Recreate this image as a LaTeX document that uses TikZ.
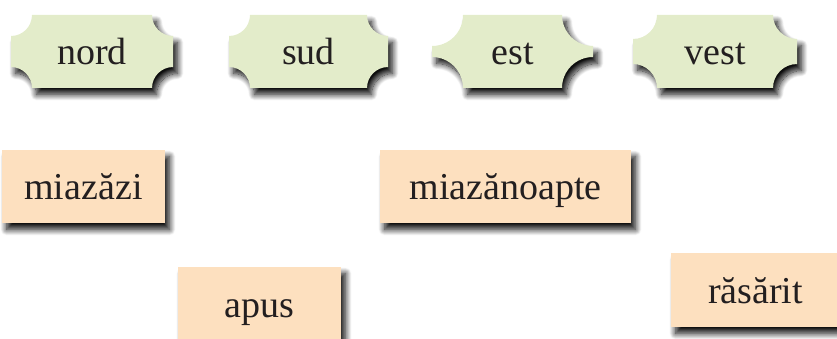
\documentclass[tikz,border=0pt]{standalone}
\usepackage{fontspec}
\setmainfont{Liberation Serif}
\usetikzlibrary{shadows.blur}
\definecolor{greenfill}{HTML}{E3ECCA}
\definecolor{peach}{HTML}{FDE0BF}
\definecolor{ink}{HTML}{231F20}
\tikzset{
 softshadow/.style={blur shadow={shadow xshift=4.5pt, shadow yshift=-6.5pt, shadow blur radius=6pt, shadow blur steps=14, shadow opacity=95}},
 word/.style={font=\fontsize{38}{44}\selectfont, text=ink, inner sep=0pt, text height=27pt, text depth=0pt},
 notch/.style={word, minimum height=73pt},
 card/.style={word, fill=peach, softshadow, minimum height=73pt},
 notchfill/.style={fill=greenfill, softshadow},
}
% name, cx, cy, width, radius, text
\newcommand{\notchbox}[6]{%
 \coordinate (#1-nw) at (#2-#4/2, #3-36.5);
 \coordinate (#1-ne) at (#2+#4/2, #3-36.5);
 \coordinate (#1-se) at (#2+#4/2, #3+36.5);
 \coordinate (#1-sw) at (#2-#4/2, #3+36.5);
 \path[notchfill] ([xshift=#5]#1-nw) -- ([xshift=-#5]#1-ne)
   arc[start angle=180,end angle=270,radius=#5] -- ([yshift=#5]#1-se)
   arc[start angle=90,end angle=180,radius=#5] -- ([xshift=#5]#1-sw)
   arc[start angle=0,end angle=90,radius=#5] -- ([yshift=-#5]#1-nw)
   arc[start angle=270,end angle=360,radius=#5] -- cycle;
 \node[notch, minimum width=#4pt] (#1) at (#2,#3) {#6};}
\begin{document}
\begin{tikzpicture}[x=1pt,y=-1pt]
\useasboundingbox (0,0) rectangle (837,339);
\notchbox{nord}{92}{51.5}{162}{21pt}{nord}
\notchbox{sud}{308.5}{51.5}{159}{21pt}{sud}
\notchbox{est}{512.5}{51.5}{161}{31pt}{est}
\notchbox{vest}{715}{51.5}{164}{24pt}{vest}
\node[card, minimum width=163pt] (miazazi) at (83.5,186.5) {miazăzi};
\node[card, minimum width=251pt] (miazanoapte) at (505.5,186.5) {miazănoapte};
\node[card, minimum width=163pt] (apus) at (259.5,303.5) {apus};
\node[card, minimum width=169pt, minimum height=74pt] (rasarit) at (755.5,290) {răsărit};
\end{tikzpicture}
\end{document}
